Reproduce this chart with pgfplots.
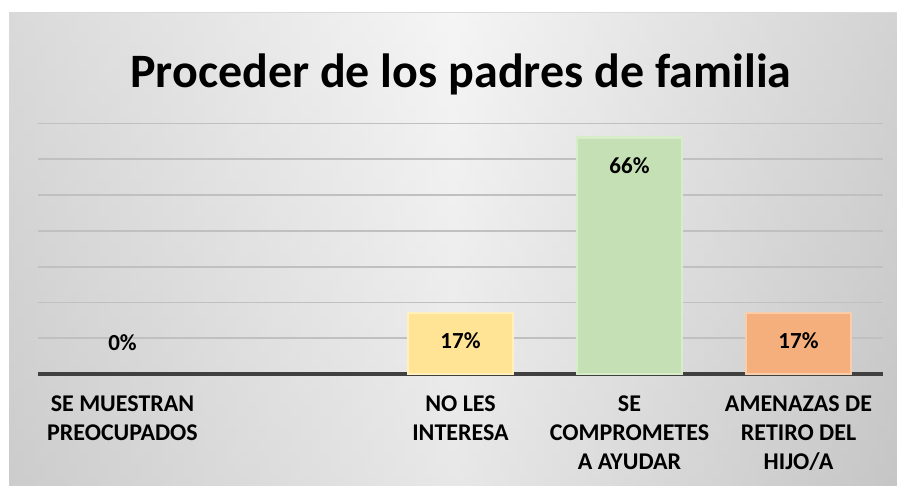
\documentclass[border=0pt]{standalone}
\usepackage{pgfplots}
\pgfplotsset{compat=1.18}
\usepackage{fontspec}
\setmainfont{Carlito}
\definecolor{bgL}{RGB}{198,198,198}
\definecolor{bgM}{RGB}{240,240,240}
\definecolor{bgR}{RGB}{188,188,188}
\definecolor{gridc}{RGB}{192,192,192}
\definecolor{axc}{RGB}{64,64,64}
\definecolor{cyel}{RGB}{255,228,150}
\definecolor{cyelb}{RGB}{255,240,190}
\definecolor{cgrn}{RGB}{197,224,180}
\definecolor{cgrnb}{RGB}{215,236,200}
\definecolor{cora}{RGB}{245,175,125}
\definecolor{corab}{RGB}{250,205,170}
\begin{document}
\begin{tikzpicture}[x=1pt,y=1pt]
\fill[white] (0,0) rectangle (897,485);
\shade[left color=bgL, right color=bgR, middle color=bgM] (9,0) rectangle (897,472);
\shade[top color=white, bottom color=black!15, opacity=0.35] (9,0) rectangle (897,472);
\draw[black!15, line width=1pt] (9,472) -- (897,472);
\node[anchor=base, font=\bfseries\fontsize{48}{52}\selectfont] at (461,397) {Proceder de los padres de familia};
\begin{axis}[
  at={(38pt,111pt)}, anchor=south west,
  scale only axis, width=845pt, height=250.6pt,
  xmin=-0.5, xmax=4.5, ymin=0, ymax=70,
  ytick={10,20,30,40,50,60,70}, yticklabels={},
  ymajorgrids, grid style={gridc, line width=1.8pt},
  xtick={0,1,2,3,4},
  xticklabels={{SE MUESTRAN\\PREOCUPADOS},{},{NO LES\\INTERESA},{SE\\COMPROMETES\\A AYUDAR},{AMENAZAS DE\\RETIRO DEL\\HIJO/A}},
  xticklabel style={align=center, font=\bfseries\fontsize{24}{29}\selectfont, yshift=-18pt},
  major tick length=0pt,
  axis x line=bottom, axis y line=left,
  x axis line style={-, axc, line width=4pt},
  y axis line style={draw=none},
  ybar, bar width=105pt, bar shift=0pt,
  /pgf/number format/assume math mode=true,
  nodes near coords={\pgfmathprintnumber{\pgfplotspointmeta}\%},
  every node near coord/.append style={font=\bfseries\fontsize{23}{26}\selectfont, black, anchor=center},
  clip=false,
]
\addplot[draw=none, fill=none, nodes near coords style={yshift=31pt}] coordinates {(0,0)};
\addplot[fill=cyel, draw=cyelb, line width=2.5pt, nodes near coords style={yshift=-28pt}] coordinates {(2,17)};
\addplot[fill=cgrn, draw=cgrnb, line width=2.5pt, nodes near coords style={yshift=-28pt}] coordinates {(3,66)};
\addplot[fill=cora, draw=corab, line width=2.5pt, nodes near coords style={yshift=-28pt}] coordinates {(4,17)};
\end{axis}
\pgfresetboundingbox
\useasboundingbox (0,0) rectangle (897,485);
\end{tikzpicture}
\end{document}
